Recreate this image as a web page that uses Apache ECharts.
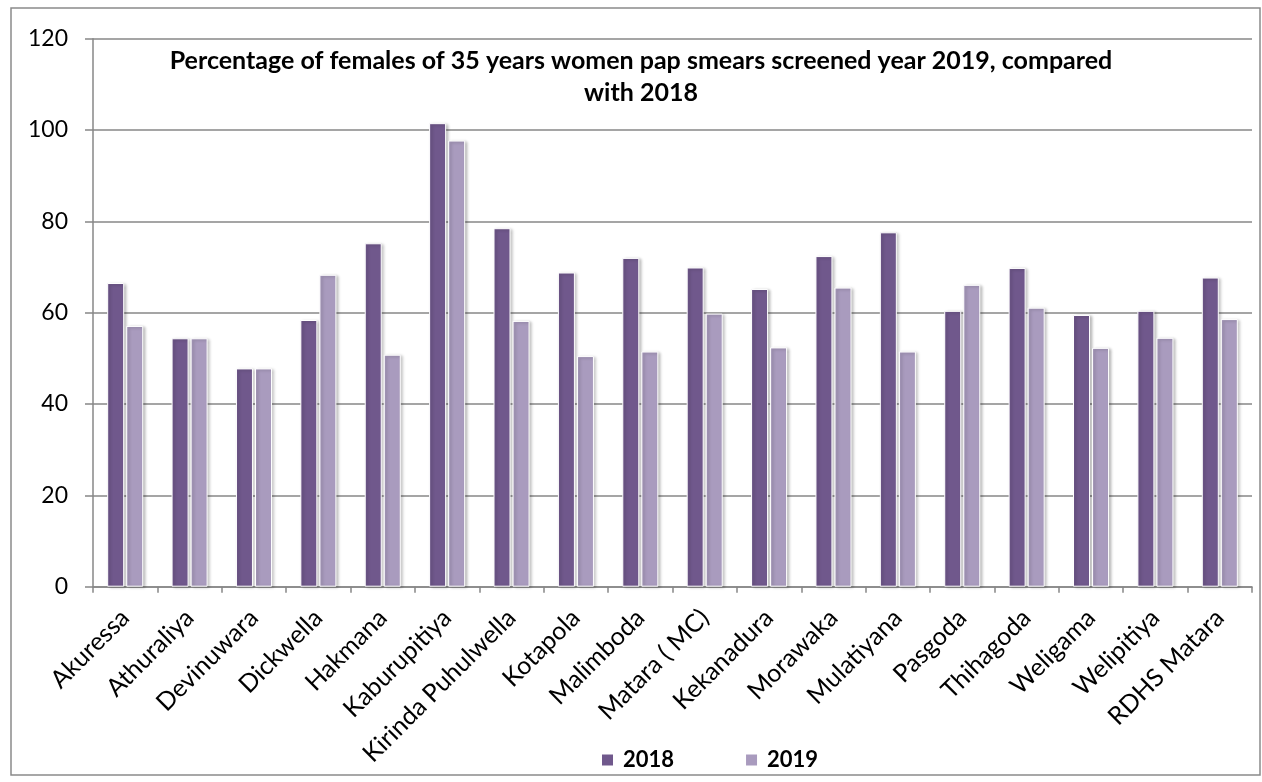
<!DOCTYPE html>
<html>
<head>
<meta charset="utf-8">
<script src="https://cdn.jsdelivr.net/npm/echarts@6/dist/echarts.min.js"></script>
<style>
    html, body { margin: 0; padding: 0; background: #fff; }
    #chart { width: 1262px; height: 782px; }
</style>
</head>
<body>
<div id="chart"></div>
<script>
    // 数据
    var categories = ['Akuressa', 'Athuraliya', 'Devinuwara', 'Dickwella', 'Hakmana', 'Kaburupitiya',
        'Kirinda Puhulwella', 'Kotapola', 'Malimboda', 'Matara ( MC)', 'Kekanadura', 'Morawaka',
        'Mulatiyana', 'Pasgoda', 'Thihagoda', 'Weligama', 'Welipitiya', 'RDHS Matara'];
    var values2018 = [66.5, 54.4, 47.8, 58.4, 75.2, 101.5, 78.5, 68.8, 72.0, 69.9, 65.2, 72.4,
        77.6, 60.4, 69.8, 59.5, 60.4, 67.7];
    var values2019 = [57.1, 54.4, 47.8, 68.3, 50.8, 97.7, 58.2, 50.5, 51.5, 59.8, 52.4, 65.5,
        51.5, 66.1, 61.1, 52.3, 54.5, 58.6];
    var yTicks = [0, 20, 40, 60, 80, 100, 120];

    var titleText = 'Percentage of females of 35 years women pap smears screened year 2019, compared\nwith 2018';
    var font = 'Lato, "Open Sans", sans-serif';
    var gridColor = '#878787';

    var mychart = echarts.init(document.getElementById('chart'));

    function barSeries(name, data, color) {
        return {
            name: name,
            type: 'bar',
            data: data,
            barWidth: 17,
            barGap: '12%',
            itemStyle: {
                color: color,
                borderColor: '#ffffff',
                borderWidth: 1,
                shadowColor: 'rgba(0,0,0,0.28)',
                shadowBlur: 3,
                shadowOffsetX: 2,
                shadowOffsetY: 1
            }
        };
    }

    var option = {
        animation: false,
        backgroundColor: '#ffffff',
        textStyle: { fontFamily: font },
        title: {
            text: titleText,
            left: 636,
            top: 40,
            textAlign: 'center',
            textStyle: {
                fontFamily: font,
                fontWeight: 'bold',
                fontSize: 25,
                lineHeight: 32,
                color: '#000'
            }
        },
        legend: {
            left: 595,
            top: 744,
            itemWidth: 13,
            itemHeight: 13,
            itemGap: 70,
            icon: 'rect',
            textStyle: { fontFamily: font, fontSize: 22, fontWeight: 'bold', color: '#000', padding: [0, 0, 0, 4] },
            data: ['2018', '2019']
        },
        graphic: [{
            type: 'rect',
            shape: { x: 11, y: 8, width: 1249, height: 767 },
            style: { fill: 'none', stroke: '#8a8a8a', lineWidth: 1.5 },
            silent: true
        }],
        grid: {
            left: 93,
            right: 10,
            top: 38.7,
            bottom: 195.3,
            containLabel: false
        },
        xAxis: [{
            type: 'category',
            data: categories,
            boundaryGap: true,
            axisLine: { lineStyle: { color: gridColor, width: 1.5 } },
            axisTick: { show: true, alignWithLabel: false, length: 6, lineStyle: { color: gridColor, width: 1.5 } },
            axisLabel: {
                interval: 0,
                rotate: 45,
                margin: 27,
                fontSize: 25,
                fontFamily: font,
                color: '#000'
            }
        }],
        yAxis: [{
            type: 'value',
            min: yTicks[0],
            max: yTicks[yTicks.length - 1],
            interval: yTicks[1] - yTicks[0],
            axisLine: { show: true, lineStyle: { color: gridColor, width: 1.5 } },
            axisTick: { show: true, length: 8, lineStyle: { color: gridColor, width: 1.5 } },
            splitLine: { show: true, lineStyle: { color: gridColor, width: 1.5 } },
            axisLabel: { margin: 25, fontSize: 23, fontFamily: font, color: '#000' }
        }],
        series: [
            barSeries('2018', values2018, '#70588c'),
            barSeries('2019', values2019, '#a99bbe')
        ]
    };
    mychart.setOption(option);
</script>
</body>
</html>
